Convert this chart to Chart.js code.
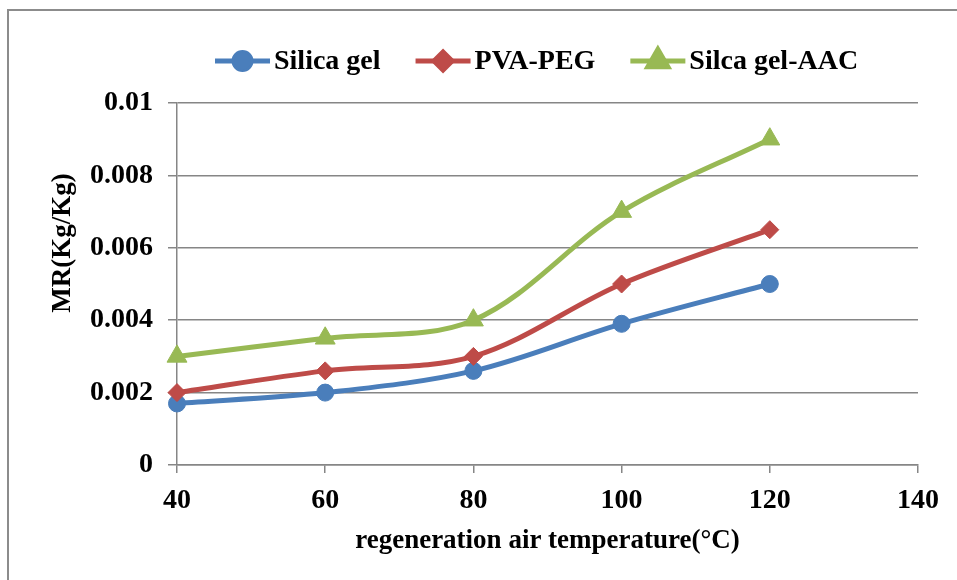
<!DOCTYPE html>
<html><head><meta charset="utf-8">
<style>html,body{margin:0;padding:0;background:#fff;}#wrap{width:957px;height:580px;}</style>
</head><body>
<div id="wrap"><canvas id="c" width="957" height="580"></canvas></div>
<script src="https://cdn.jsdelivr.net/npm/chart.js@4/dist/chart.umd.min.js"></script>
<script>
// ---- data ----
const temperatures = [40, 60, 80, 100, 120];
const silicaGel = [0.0017, 0.0020, 0.0026, 0.0039, 0.0050];
const pvaPeg = [0.0020, 0.0026, 0.0030, 0.0050, 0.0065];
const silicaGelAac = [0.0030, 0.0035, 0.0040, 0.0070, 0.0090];
const seriesNames = ['Silica gel', 'PVA-PEG', 'Silca gel-AAC'];
const xTickValues = [40, 60, 80, 100, 120, 140];
const yTickLabels = ['0', '0.002', '0.004', '0.006', '0.008', '0.01'];
const xTitle = 'regeneration air temperature(°C)';
const yTitle = 'MR(Kg/Kg)';

const colors = ['#4A7EBB', '#BE4B48', '#98B954'];
const styles = ['circle', 'rectRot', 'triangle'];
const radii = [8.5, 9, 11.5];
const FONT = '"Liberation Serif", "Times New Roman", serif';
const GRID = '#868686';

function toPoints(vals) { return temperatures.map((t, i) => ({ x: t, y: vals[i] })); }
const seriesValues = [silicaGel, pvaPeg, silicaGelAac];

const datasets = seriesValues.map((vals, i) => ({
  label: seriesNames[i],
  data: toPoints(vals),
  borderColor: colors[i],
  backgroundColor: colors[i],
  borderWidth: 5,
  pointStyle: styles[i],
  pointRadius: radii[i],
  pointBorderWidth: 1,
  pointBorderColor: colors[i],
  pointBackgroundColor: colors[i],
  tension: 0.34,
  clip: false,
  order: 3 - i
}));

const decor = {
  id: 'decor',
  beforeDraw(chart) {
    const ctx = chart.ctx;
    ctx.save();
    ctx.fillStyle = '#fff';
    ctx.fillRect(0, 0, chart.width, chart.height);
    ctx.strokeStyle = '#8c8c8c';
    ctx.lineWidth = 2;
    ctx.strokeRect(8, 10, 1200, 1200);
    ctx.restore();
  },
  afterDraw(chart) {
    const ctx = chart.ctx;
    const area = chart.chartArea;
    ctx.save();
    ctx.fillStyle = '#000';
    // x title
    ctx.font = 'bold 27px ' + FONT;
    ctx.textAlign = 'center';
    ctx.textBaseline = 'alphabetic';
    ctx.fillText(xTitle, (area.left + area.right) / 2, 548);
    // y title
    ctx.save();
    ctx.translate(70, 243);
    ctx.rotate(-Math.PI / 2);
    ctx.fillText(yTitle, 0, 0);
    ctx.restore();
    // legend
    let x = 215;
    const ly = 61;
    ctx.font = 'bold 28px ' + FONT;
    ctx.textAlign = 'left';
    seriesNames.forEach((name, i) => {
      ctx.strokeStyle = colors[i];
      ctx.lineWidth = 5;
      ctx.beginPath();
      ctx.moveTo(x, ly);
      ctx.lineTo(x + 55, ly);
      ctx.stroke();
      ctx.fillStyle = colors[i];
      Chart.helpers.drawPoint(ctx, { pointStyle: styles[i], radius: radii[i], borderWidth: 1, rotation: 0 }, x + 27.5, ly);
      ctx.fill();
      ctx.fillStyle = '#000';
      ctx.fillText(name, x + 59, 69);
      x += 59 + ctx.measureText(name).width + 35;
    });
    ctx.restore();
  }
};

new Chart(document.getElementById('c'), {
  type: 'line',
  data: { datasets },
  options: {
    responsive: false,
    animation: false,
    devicePixelRatio: 1,
    layout: { padding: { left: 0, top: 103, right: 39, bottom: 0 } },
    plugins: { legend: { display: false }, tooltip: { enabled: false } },
    scales: {
      x: {
        type: 'linear', min: 40, max: 140,
        afterFit(s) { s.height = 115; },
        afterBuildTicks(s) { s.ticks = xTickValues.map(v => ({ value: v })); },
        ticks: { color: '#000', font: { family: FONT, size: 28, weight: 'bold' }, padding: 11, maxRotation: 0,
                 callback: v => String(v) },
        grid: { drawOnChartArea: false, drawTicks: true, tickLength: 8, color: GRID, lineWidth: 1.5 },
        border: { display: true, color: GRID, width: 1.5 }
      },
      y: {
        min: 0, max: 0.01,
        afterFit(s) { s.width = 177; },
        afterBuildTicks(s) { s.ticks = yTickLabels.map(l => ({ value: parseFloat(l) })); },
        ticks: { color: '#000', font: { family: FONT, size: 28, weight: 'bold' }, padding: 15,
                 callback: (v, i) => yTickLabels[i] },
        grid: { drawOnChartArea: true, drawTicks: true, tickLength: 9, color: GRID, lineWidth: 1.5 },
        border: { display: true, color: GRID, width: 1.5 }
      }
    }
  },
  plugins: [decor]
});
</script>
</body></html>
